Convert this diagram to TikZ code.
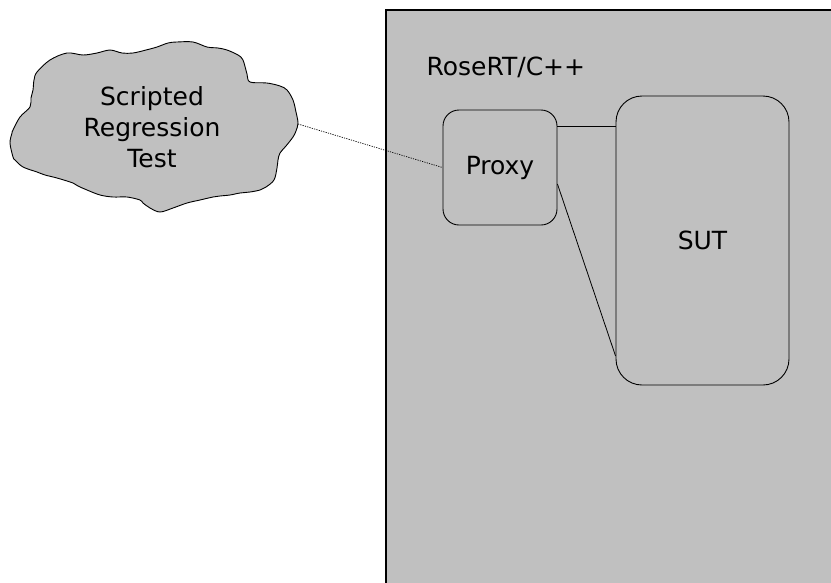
\documentclass[tikz,border=0pt]{standalone}
\usepackage{fontspec}
\setmainfont{DejaVu Sans}
\definecolor{panel}{HTML}{C0C0C0}
\begin{document}
\begin{tikzpicture}[x=1pt,y=-1pt,
  every node/.style={font=\fontsize{25}{31}\selectfont, text=black},
  outline/.style={draw=black, line width=0.9pt},
  box/.style={outline, fill=panel, rounded corners=#1, inner sep=0pt},
  link/.style={draw=black, line width=0.8pt},
  dotlink/.style={draw=black, line width=0.7pt, dash pattern=on 1.2pt off 1.2pt}]
  \useasboundingbox (0,0) rectangle (831,582);
  \clip (0,0) rectangle (831,582);
  \fill[white] (0,0) rectangle (831,582);

  % RoseRT/C++ run-time panel
  \path[outline, fill=panel, line width=1.2pt] (386,10) rectangle (840,600);
  \node[anchor=west] (rt) at (423,67) {RoseRT/C++};

  % scripted test cloud
  \path[outline, fill=panel] plot[smooth cycle, tension=0.55] coordinates {
    (37,72) (50,60) (67,53) (83,55) (97,53) (110,50) (122,53) (133,53)
    (146,50) (157,47) (168,43) (177,42) (193,42) (207,47) (218,48) (227,50)
    (238,55) (243,60) (247,74) (250,82) (267,83) (280,86) (287,90) (293,100)
    (296,112) (298,123) (296,131) (293,137) (286,146) (280,153) (278,160)
    (277,168) (274,180) (266,187) (260,190) (250,192) (240,193) (230,195)
    (220,196) (213,197) (200,200) (187,203) (173,208) (160,212) (150,208)
    (143,203) (140,200) (127,197) (113,197) (100,195) (87,190) (78,186)
    (73,183) (57,178) (45,175) (37,172) (23,167) (15,160) (13,157) (10,143)
    (12,133) (13,130) (20,117) (30,107) (31,98) (33,90) (34,80)};
  \node[align=center] (cloud) at (152,127) {Scripted\\Regression\\Test};
  \coordinate (cloudR) at (298,124);

  % capsules
  \node[box=16pt, minimum width=114pt, minimum height=115pt] (proxy) at (500,167.5) {Proxy};
  \node[box=26pt, minimum width=173pt, minimum height=289pt] (sut) at (702.5,240.5) {SUT};

  % connectors
  \draw[link] (proxy.east |- 0,126) -- (sut.west |- 0,126);
  \draw[link] (proxy.east |- 0,184) -- (sut.west |- 0,356);
  \draw[dotlink] (cloudR) -- (proxy.west);
\end{tikzpicture}
\end{document}
